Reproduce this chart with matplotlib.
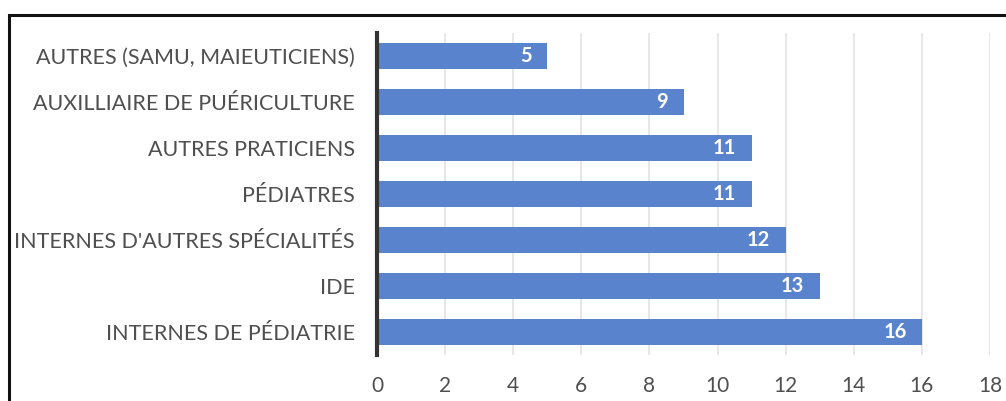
import matplotlib.pyplot as plt
from matplotlib.patches import Rectangle

categories = [
    "INTERNES DE PÉDIATRIE",
    "IDE",
    "INTERNES D'AUTRES SPÉCIALITÉS",
    "PÉDIATRES",
    "AUTRES PRATICIENS",
    "AUXILLIAIRE DE PUÉRICULTURE",
    "AUTRES (SAMU, MAIEUTICIENS)",
]
counts = [16, 13, 12, 11, 11, 9, 5]
x_ticks = [0, 2, 4, 6, 8, 10, 12, 14, 16, 18]

BAR_COLOR = "#5A83CD"
TEXT_COLOR = "#4F4F4F"

plt.rcParams["font.family"] = ["Lato", "DejaVu Sans"]

fig = plt.figure(figsize=(10.06, 4.01), dpi=100)
ax = fig.add_axes([377 / 1006, 1 - 355 / 401, (990 - 377) / 1006, (355 - 33) / 401])

ypos = list(range(len(categories)))
bars = ax.barh(ypos, counts, height=0.57, color=BAR_COLOR, zorder=3)

for bar, v in zip(bars, counts):
    ax.text(bar.get_width() - 0.45, bar.get_y() + bar.get_height() / 2, str(v),
            ha="right", va="center", color="white", fontsize=14.5,
            fontweight="bold", zorder=4)

ax.set_yticks(ypos)
ax.set_yticklabels(categories, fontsize=15.5, color=TEXT_COLOR)
ax.set_xticks(x_ticks)
ax.set_xticklabels([str(t) for t in x_ticks], fontsize=15, color=TEXT_COLOR)
ax.set_xlim(0, 18)
ax.set_ylim(-0.5, len(categories) - 0.5)

ax.tick_params(axis="both", length=0)
ax.tick_params(axis="y", pad=16)
ax.tick_params(axis="x", pad=15)
ax.grid(axis="x", color="#E3E3E3", linewidth=1.2, zorder=0)

for side in ["top", "right", "bottom"]:
    ax.spines[side].set_visible(False)
ax.spines["left"].set_color("#333333")
ax.spines["left"].set_linewidth(3)
ax.spines["left"].set_zorder(5)

# outer frame, running off the right and bottom edges
fig.patches.append(Rectangle((9 / 1006, -0.1), 1.2, 1 - 15 / 401 + 0.1,
                             transform=fig.transFigure, fill=False,
                             edgecolor="#111111", linewidth=2.2))

fig.savefig("out.png", dpi=100)
